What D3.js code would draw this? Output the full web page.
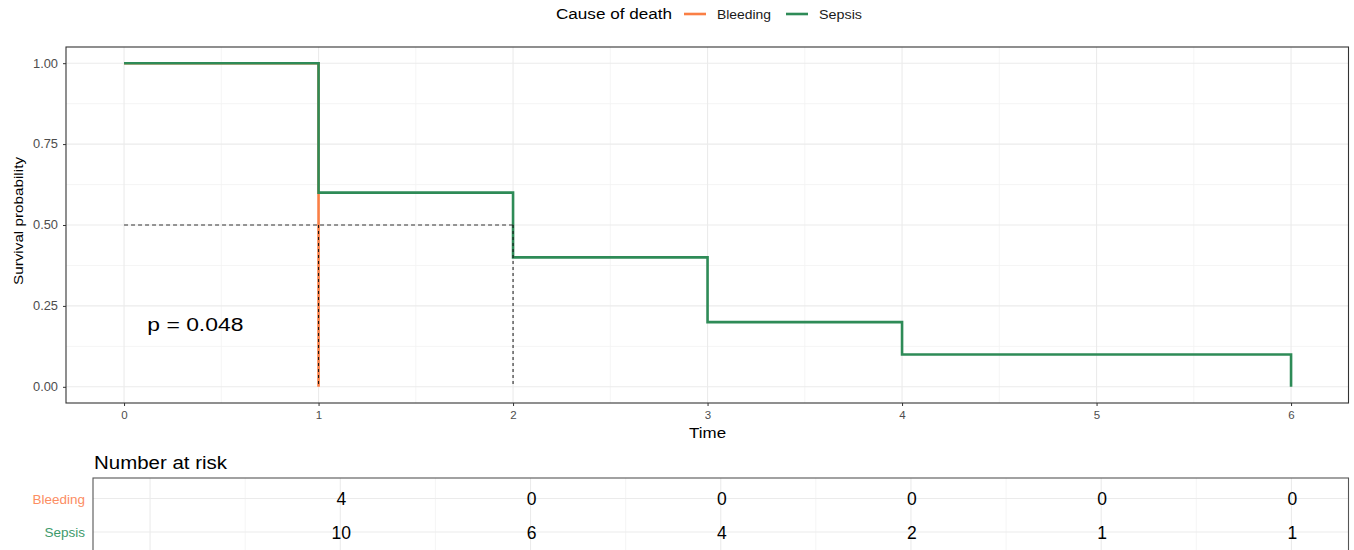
<!DOCTYPE html>
<html>
<head>
<meta charset="utf-8">
<script src="https://cdn.jsdelivr.net/npm/d3@7/dist/d3.min.js"></script>
<style>
  html, body { margin: 0; padding: 0; background: #fff; }
  svg { display: block; font-family: "Liberation Sans", Arial, sans-serif; }
</style>
</head>
<body>
<svg id="chart" width="1354" height="550"></svg>
<script>
// Kaplan-Meier estimates by cause of death
const groups = ["Bleeding", "Sepsis"];
const groupColors = ["#FA7F45", "#2E8B57"];
const labelColors = ["#FC8D62", "#3E9A6C"];
const bleedingTimes = [0, 1];
const bleedingSurv = [1, 0];
const sepsisTimes = [0, 1, 2, 3, 4, 6];
const sepsisSurv = [1, 0.6, 0.4, 0.2, 0.1, 0];
const xTicks = [0, 1, 2, 3, 4, 5, 6];
const xTickLabels = ["0", "1", "2", "3", "4", "5", "6"];
const yTicks = [0, 0.25, 0.5, 0.75, 1];
const yTickLabels = ["0.00", "0.25", "0.50", "0.75", "1.00"];
const medianTimes = [1, 2];
const medianLevel = 0.5;
const pLabel = "p = 0.048";
// number at risk, one column per time point
const riskTimes = [1, 2, 3, 4, 5, 6];
const riskBleeding = [4, 0, 0, 0, 0, 0];
const riskSepsis = [10, 6, 4, 2, 1, 1];

const svg = d3.select("#chart");

// widen glyphs of a text element to a given run length
function widen(sel, w) {
  return sel.attr("textLength", w).attr("lengthAdjust", "spacingAndGlyphs");
}

// ---------- survival panel ----------
const P = { left: 66, right: 1348.5, top: 47, bottom: 403 };
const x = d3.scaleLinear().domain([-0.3, 6.3]).range([65.7, 1349.4]);
const y = d3.scaleLinear().domain([-0.05, 1.05]).range([P.bottom, P.top]);

const g = svg.append("g");
g.append("rect").attr("x", P.left).attr("y", P.top)
  .attr("width", P.right - P.left).attr("height", P.bottom - P.top).attr("fill", "#fff");

// minor grid
const xMinor = d3.range(0.5, 6, 1);
const yMinor = [0.125, 0.375, 0.625, 0.875];
g.selectAll(".xminor").data(xMinor).join("line")
  .attr("x1", d => x(d)).attr("x2", d => x(d)).attr("y1", P.top).attr("y2", P.bottom)
  .attr("stroke", "#F3F3F3").attr("stroke-width", 0.8);
g.selectAll(".yminor").data(yMinor).join("line")
  .attr("x1", P.left).attr("x2", P.right).attr("y1", d => y(d)).attr("y2", d => y(d))
  .attr("stroke", "#F3F3F3").attr("stroke-width", 0.8);
// major grid
g.selectAll(".xmajor").data(xTicks).join("line")
  .attr("x1", d => x(d)).attr("x2", d => x(d)).attr("y1", P.top).attr("y2", P.bottom)
  .attr("stroke", "#EBEBEB").attr("stroke-width", 1.1);
g.selectAll(".ymajor").data(yTicks).join("line")
  .attr("x1", P.left).attr("x2", P.right).attr("y1", d => y(d)).attr("y2", d => y(d))
  .attr("stroke", "#EBEBEB").attr("stroke-width", 1.1);

// survival curves
const line = d3.line().x(d => x(d[0])).y(d => y(d[1])).curve(d3.curveStepAfter);
const series = [
  { name: groups[0], color: groupColors[0], pts: d3.zip(bleedingTimes, bleedingSurv) },
  { name: groups[1], color: groupColors[1], pts: d3.zip(sepsisTimes, sepsisSurv) }
];
g.selectAll(".curve").data(series).join("path")
  .attr("d", d => line(d.pts)).attr("fill", "none")
  .attr("stroke", d => d.color).attr("stroke-width", 2.6);

// median survival guides
g.append("line")
  .attr("x1", x(0)).attr("x2", x(d3.max(medianTimes)))
  .attr("y1", y(medianLevel)).attr("y2", y(medianLevel))
  .attr("stroke", "#333").attr("stroke-width", 1).attr("stroke-dasharray", "4,3");
g.selectAll(".median").data(medianTimes).join("line")
  .attr("x1", d => x(d)).attr("x2", d => x(d))
  .attr("y1", y(medianLevel)).attr("y2", y(0))
  .attr("stroke", "#111").attr("stroke-width", 1).attr("stroke-dasharray", "3,3");

// p-value
widen(g.append("text").attr("x", x(0.12)).attr("y", y(0.172))
  .attr("font-size", 18.8).attr("fill", "#000").text(pLabel), 96);

// panel border
g.append("rect").attr("x", P.left).attr("y", P.top)
  .attr("width", P.right - P.left).attr("height", P.bottom - P.top)
  .attr("fill", "none").attr("stroke", "#333").attr("stroke-width", 1.1);

// axes
const xAxis = d3.axisBottom(x).tickValues(xTicks).tickSize(3).tickPadding(5)
  .tickFormat((d, i) => xTickLabels[i]);
const yAxis = d3.axisLeft(y).tickValues(yTicks).tickSize(3).tickPadding(5)
  .tickFormat((d, i) => yTickLabels[i]);
const gx = g.append("g").attr("transform", `translate(0,${P.bottom})`).call(xAxis);
const gy = g.append("g").attr("transform", `translate(${P.left},0)`).call(yAxis);
[gx, gy].forEach(a => {
  a.select(".domain").remove();
  a.selectAll(".tick line").attr("stroke", "#333");
  a.selectAll(".tick text").attr("fill", "#4D4D4D").attr("font-size", 11.5)
    .attr("font-family", "Liberation Sans, Arial, sans-serif");
});
gy.selectAll(".tick text").attr("font-size", 12).attr("textLength", 25)
  .attr("lengthAdjust", "spacingAndGlyphs");

widen(g.append("text").attr("x", x(3)).attr("y", 437.5).attr("text-anchor", "middle")
  .attr("font-size", 14).attr("fill", "#000").text("Time"), 37);
widen(g.append("text").attr("transform", `translate(23,221) rotate(-90)`)
  .attr("text-anchor", "middle").attr("font-size", 13.5).attr("fill", "#000")
  .text("Survival probability"), 128);

// legend
const lg = svg.append("g");
widen(lg.append("text").attr("x", 556).attr("y", 19.3).attr("font-size", 13.8).attr("fill", "#000")
  .text("Cause of death"), 116);
const legendX = [684, 786];
const legendTextW = [54, 43];
groups.forEach((name, i) => {
  lg.append("line").attr("x1", legendX[i]).attr("x2", legendX[i] + 22)
    .attr("y1", 14).attr("y2", 14).attr("stroke", groupColors[i]).attr("stroke-width", 2.6);
  widen(lg.append("text").attr("x", legendX[i] + 33).attr("y", 18.5)
    .attr("font-size", 12).attr("fill", "#1a1a1a").text(name), legendTextW[i]);
});

// ---------- risk table ----------
const R = { left: 93, right: 1348.5, top: 478, bottom: 553 };
const rx = d3.scaleLinear().domain([-0.3, 6.3]).range([R.left, R.right]);
const ry = d3.scalePoint().domain(groups).range([498.5, 532]);
const rg = svg.append("g");

widen(svg.append("text").attr("x", 94).attr("y", 469).attr("font-size", 17.5).attr("fill", "#000")
  .text("Number at risk"), 133);

rg.selectAll(".rxminor").data(d3.range(0.5, 6, 1)).join("line")
  .attr("x1", d => rx(d)).attr("x2", d => rx(d)).attr("y1", R.top).attr("y2", R.bottom)
  .attr("stroke", "#F3F3F3").attr("stroke-width", 0.8);
rg.selectAll(".rxmajor").data(xTicks).join("line")
  .attr("x1", d => rx(d)).attr("x2", d => rx(d)).attr("y1", R.top).attr("y2", R.bottom)
  .attr("stroke", "#EBEBEB").attr("stroke-width", 1.1);
rg.selectAll(".rymajor").data(groups).join("line")
  .attr("x1", R.left).attr("x2", R.right).attr("y1", d => ry(d)).attr("y2", d => ry(d))
  .attr("stroke", "#EBEBEB").attr("stroke-width", 1.1);

const riskRows = [
  { name: groups[0], vals: riskBleeding },
  { name: groups[1], vals: riskSepsis }
];
riskRows.forEach(row => {
  rg.selectAll(null).data(riskTimes.map((t, i) => [t, row.vals[i]])).join("text")
    .attr("x", d => rx(d[0]) + 1).attr("y", ry(row.name) + 6.5)
    .attr("text-anchor", "middle").attr("font-size", 17.5).attr("fill", "#000")
    .text(d => d[1]);
});

rg.append("rect").attr("x", R.left).attr("y", R.top)
  .attr("width", R.right - R.left).attr("height", R.bottom - R.top)
  .attr("fill", "none").attr("stroke", "#555").attr("stroke-width", 1.1);

groups.forEach((name, i) => {
  rg.append("text").attr("x", 85).attr("y", ry(name) + 5).attr("text-anchor", "end")
    .attr("font-size", 13.5).attr("fill", labelColors[i]).text(name);
});
</script>
</body>
</html>
